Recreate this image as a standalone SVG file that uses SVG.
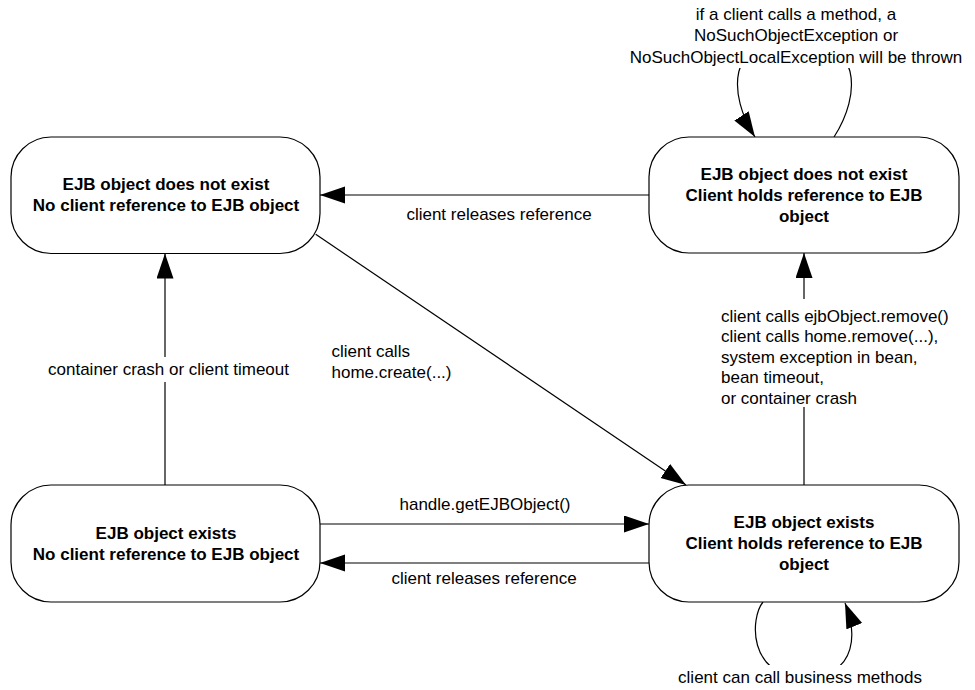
<svg xmlns="http://www.w3.org/2000/svg" width="975" height="690" viewBox="0 0 975 690">
  <style>
    .node { fill: #ffffff; stroke: #000000; stroke-width: 1.2; }
    .nt { font-family: "Liberation Sans", Arial, Helvetica, sans-serif; font-size: 17px; font-weight: bold; fill: #000000; text-anchor: middle; }
    .edge { fill: none; stroke: #000000; stroke-width: 1.2; marker-end: url(#arrow); }
    .lbl { font-family: "Liberation Sans", Arial, Helvetica, sans-serif; font-size: 17px; fill: #000000; }
    .bg { fill: #ffffff; stroke: none; }
  </style>
  <defs>
    <marker id="arrow" markerUnits="userSpaceOnUse" markerWidth="26" markerHeight="18" refX="25" refY="8.5" orient="auto">
      <path d="M0,0 L25,8.5 L0,17 Z" fill="#000000"/>
    </marker>
  </defs>
  <rect width="975" height="690" fill="#ffffff"/>

  <g id="connectors">
    <!-- TR -> TL -->
    <line class="edge" x1="649" y1="195" x2="320" y2="195"/>
    <!-- TL -> BR diagonal -->
    <line class="edge" x1="315.7" y1="234.3" x2="686" y2="485"/>
    <!-- BL -> TL vertical -->
    <line class="edge" x1="165" y1="485" x2="165" y2="253.5"/>
    <!-- BL -> BR -->
    <line class="edge" x1="320" y1="524" x2="649" y2="524"/>
    <!-- BR -> BL -->
    <line class="edge" x1="649" y1="563" x2="320" y2="563"/>
    <!-- BR -> TR vertical -->
    <line class="edge" x1="804" y1="485" x2="804" y2="253"/>
    <!-- TR self loop -->
    <path class="edge" d="M834,137 C861,95 863,38 794,36 C726,38 728,95 755,137"/>
    <!-- BR self loop -->
    <path class="edge" d="M763,602 C750,618 748,676 803,678 C862,676 855,628 845,603"/>

    <!-- labels -->
    <text class="lbl" x="499" y="220" text-anchor="middle">client releases reference</text>
    <text class="lbl" x="331.5" y="357">client calls</text>
    <text class="lbl" x="331.5" y="378">home.create(...)</text>
    <rect class="bg" x="45" y="357" width="248" height="25"/>
    <text class="lbl" x="168.5" y="375" text-anchor="middle">container crash or client timeout</text>
    <text class="lbl" x="485" y="510" text-anchor="middle">handle.getEJBObject()</text>
    <text class="lbl" x="484" y="584" text-anchor="middle">client releases reference</text>
    <rect class="bg" x="716" y="299" width="170" height="108"/>
    <text class="lbl" x="721" y="321.5">client calls ejbObject.remove()</text>
    <text class="lbl" x="721" y="342">client calls home.remove(...),</text>
    <text class="lbl" x="721" y="362.5">system exception in bean,</text>
    <text class="lbl" x="721" y="383">bean timeout,</text>
    <text class="lbl" x="721" y="403.5">or container crash</text>
    <rect class="bg" x="685" y="4" width="224" height="64"/>
    <rect class="bg" x="620" y="46" width="352" height="22"/>
    <text class="lbl" x="796" y="19.5" text-anchor="middle">if a client calls a method, a</text>
    <text class="lbl" x="796" y="41" text-anchor="middle">NoSuchObjectException or</text>
    <text class="lbl" x="796" y="62.5" text-anchor="middle">NoSuchObjectLocalException will be thrown</text>
    <rect class="bg" x="678" y="665" width="245" height="24"/>
    <text class="lbl" x="800" y="683" text-anchor="middle">client can call business methods</text>
  </g>

  <g id="node-tl">
    <rect class="node" x="11" y="137" width="309" height="116.5" rx="40" ry="40"/>
    <text class="nt" x="166" y="190">EJB object does not exist</text>
    <text class="nt" x="166" y="211">No client reference to EJB object</text>
  </g>
  <g id="node-tr">
    <rect class="node" x="649" y="137" width="310" height="116" rx="40" ry="40"/>
    <text class="nt" x="804" y="180">EJB object does not exist</text>
    <text class="nt" x="804" y="201">Client holds reference to EJB</text>
    <text class="nt" x="804" y="222">object</text>
  </g>
  <g id="node-bl">
    <rect class="node" x="11" y="485" width="309" height="117" rx="40" ry="40"/>
    <text class="nt" x="166" y="538.5">EJB object exists</text>
    <text class="nt" x="166" y="559.5">No client reference to EJB object</text>
  </g>
  <g id="node-br">
    <rect class="node" x="649" y="485" width="310" height="117" rx="40" ry="40"/>
    <text class="nt" x="804" y="528">EJB object exists</text>
    <text class="nt" x="804" y="549">Client holds reference to EJB</text>
    <text class="nt" x="804" y="569.5">object</text>
  </g>
</svg>
